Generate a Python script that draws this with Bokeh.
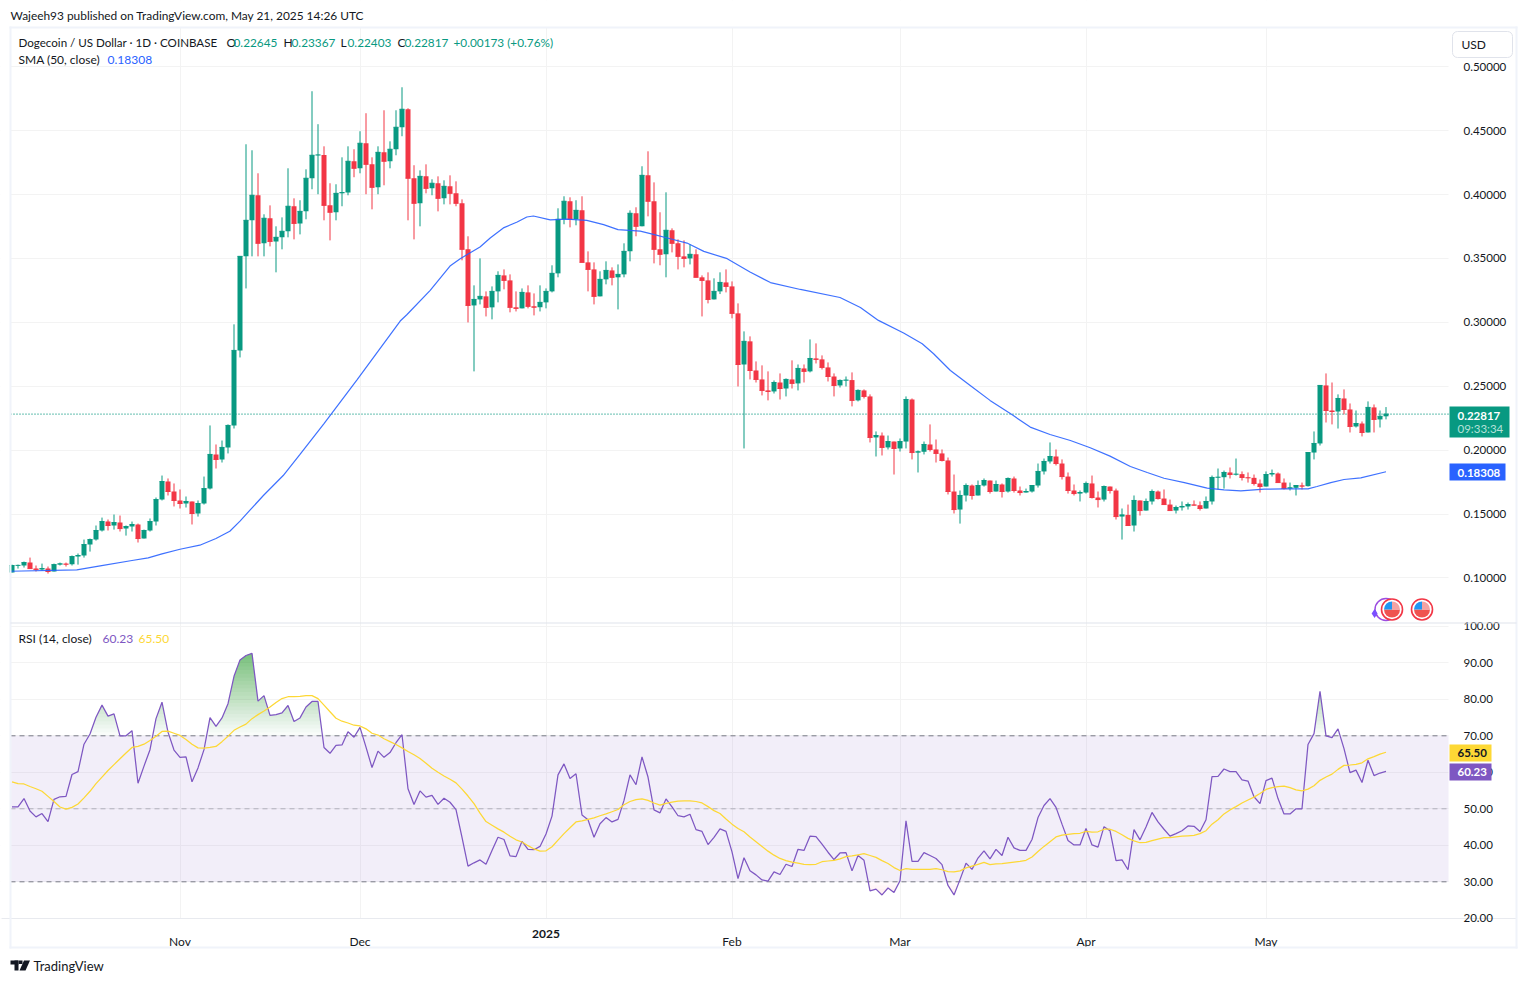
import numpy as np
import pandas as pd
from bokeh.plotting import figure
from bokeh.models import (Label, BoxAnnotation, PolyAnnotation, FixedTicker, Range1d, Grid, LinearAxis,
                          NumeralTickFormatter, ColumnDataSource)
from bokeh.embed import file_html
from bokeh.resources import INLINE

FONT = "Lato"
GREEN, RED, BLUE = "#089981", "#F23645", "#2962FF"
PURPLE, YELLOW = "#7E57C2", "#FDD835"
INK, GRID, EDGE = "#131722", "#F3F3F3", "#F0F3FA"

first_open = 0.1042
closes = [
 .1097,.1098,.1120,.1073,.1065,.1073,.1050,.1104,.1110,.1107,.1167,.1175,.1261,.1300,.1371,.1441,.1410,.1433,.1386,.1402,.1418,.1308,.1371,.1441,.1613,.1754,.1676,.1606,
 .1582,.1598,.1504,.1582,.1699,.1966,.1927,.2021,.2193,.2780,.3516,.3798,.3994,.3618,.3814,.3633,.3665,.3712,.3908,.3774,.3868,.4127,.4307,.4310,.3915,.3861,.4009,.4015,.4260,.4205,
 .4401,.4236,.4056,.4330,.4260,.4354,.4526,.4667,.4127,.3931,.4142,.4048,.4088,.3970,.4064,.4009,.3931,.3571,.3132,.3179,.3203,.3117,.3242,.3367,.3328,.3117,.3109,.3234,.3125,.3118,.3156,
 .3242,.3383,.3806,.3947,.3806,.3876,.3469,.3414,.3203,.3336,.3406,.3352,.3375,.3555,.3853,.3751,.4150,.3947,.3571,.3532,.3720,.3618,.3516,.3500,.3532,.3352,.3328,.3179,.3242,.3312,.3281,
 .3070,.2670,.2851,.2623,.2553,.2467,.2459,.2529,.2482,.2553,.2522,.2639,.2616,.2717,.2710,.2647,.2576,.2506,.2545,.2548,.2389,.2467,.2420,.2099,.2114,.2021,.2067,.2013,
 .2067,.2396,.1981,.1987,.2044,.2005,.1974,.1919,.1676,.1535,.1645,.1723,.1645,.1723,.1762,.1676,.1731,.1676,.1778,.1684,.1668,.1676,.1723,.1833,.1911,.1950,.1895,.1793,.1684,.1660,.1668,
 .1739,.1629,.1613,.1715,.1684,.1480,.1493,.1410,.1606,.1527,.1598,.1676,.1621,.1574,.1527,.1551,.1559,.1574,.1569,.1543,.1598,.1786,.1788,.1825,.1809,.1812,.1786,.1783,.1739,.1715,
 .1809,.1817,.1746,.1699,.1705,.1723,.1718,.1981,.2052,.2506,.2310,.2302,.2404,.2318,.2185,.2208,.2138,.2334,.2240,.22645,.22817]
highs = [
 .1104,.1104,.1128,.1159,.1097,.1112,.1089,.1112,.1120,.1120,.1175,.1191,.1300,.1308,.1410,.1472,.1457,.1496,.1488,.1410,.1441,.1425,.1378,.1465,.1629,.1801,.1778,.1739,
 .1692,.1637,.1598,.1606,.1793,.2193,.2044,.2075,.2201,.2984,.3516,.4393,.4346,.4166,.3845,.3915,.3751,.3821,.4205,.3970,.3955,.4197,.4808,.4550,.4377,.4088,.4080,.4291,.4377,.4354,
 .4495,.4636,.4291,.4377,.4659,.4416,.4659,.4839,.4675,.4229,.4189,.4236,.4119,.4142,.4111,.4150,.4103,.3962,.3673,.3289,.3500,.3242,.3281,.3399,.3414,.3375,.3242,.3265,.3289,.3226,.3289,
 .3265,.3446,.3892,.3986,.3978,.3955,.3986,.3555,.3469,.3399,.3477,.3430,.3453,.3618,.3876,.3900,.4221,.4338,.4095,.3861,.4017,.3735,.3649,.3641,.3610,.3571,.3367,.3391,.3344,.3391,.3414,
 .3320,.3148,.2929,.2890,.2694,.2663,.2616,.2545,.2600,.2561,.2702,.2670,.2670,.2866,.2835,.2741,.2686,.2600,.2553,.2576,.2608,.2475,.2475,.2436,.2146,.2138,.2114,.2067,
 .2091,.2420,.2404,.1997,.2067,.2201,.2083,.2005,.1942,.1809,.1684,.1739,.1731,.1762,.1778,.1762,.1762,.1739,.1786,.1793,.1715,.1699,.1723,.1895,.1934,.2060,.2005,.1927,.1825,.1731,.1684,
 .1754,.1801,.1676,.1723,.1715,.1699,.1543,.1574,.1645,.1606,.1621,.1692,.1684,.1692,.1613,.1566,.1598,.1590,.1606,.1598,.1637,.1801,.1856,.1840,.1864,.1934,.1833,.1825,.1809,.1770,
 .1833,.1848,.1825,.1778,.1746,.1723,.1746,.1981,.2146,.2506,.2600,.2529,.2436,.2475,.2365,.2310,.2224,.2381,.2357,.2310,.23367]
lows = [
 .1042,.1073,.1081,.1073,.1050,.1057,.1034,.1050,.1097,.1089,.1097,.1104,.1159,.1206,.1292,.1363,.1371,.1378,.1363,.1331,.1363,.1277,.1308,.1363,.1410,.1606,.1645,.1559,
 .1543,.1551,.1418,.1480,.1574,.1692,.1856,.1903,.1974,.2169,.2725,.3265,.3516,.3516,.3516,.3594,.3391,.3571,.3665,.3649,.3688,.3806,.4041,.4002,.3798,.3641,.3798,.3908,.3994,.4135,
 .4166,.4002,.3884,.4002,.4072,.4205,.4307,.4456,.3798,.3649,.3751,.4009,.3994,.3868,.3923,.3923,.3908,.3485,.2999,.2616,.3140,.3046,.3023,.3156,.3258,.3078,.3085,.3109,.3109,.3054,.3085,
 .3109,.3234,.3352,.3767,.3743,.3759,.3469,.3242,.3140,.3203,.3297,.3289,.3101,.3352,.3477,.3673,.3751,.3829,.3461,.3446,.3352,.3547,.3414,.3430,.3453,.3352,.3046,.3148,.3179,.3221,.3234,
 .3031,.2498,.2013,.2553,.2529,.2428,.2389,.2443,.2396,.2420,.2482,.2467,.2529,.2608,.2678,.2631,.2537,.2420,.2490,.2498,.2342,.2381,.2404,.2060,.1950,.1958,.2005,.1809,
 .1989,.2013,.1927,.1825,.1966,.1989,.1903,.1911,.1653,.1504,.1425,.1598,.1613,.1645,.1715,.1660,.1676,.1629,.1668,.1668,.1645,.1668,.1668,.1707,.1809,.1895,.1880,.1770,.1660,.1645,.1598,
 .1660,.1621,.1551,.1598,.1660,.1457,.1300,.1410,.1363,.1488,.1527,.1574,.1613,.1574,.1527,.1504,.1527,.1535,.1566,.1527,.1543,.1574,.1692,.1699,.1778,.1801,.1762,.1746,.1723,.1668,
 .1715,.1793,.1746,.1692,.1684,.1645,.1692,.1715,.1927,.2036,.2216,.2201,.2169,.2279,.2138,.2177,.2107,.2138,.2138,.2177,.22403]

sma_day = [-0.3,10.8,14.7,20,22.7,25,28,31.3,34,36.3,38,39.7,41.9,45.2,48,52,57.5,64.7,65.8,69.7,73,74.7,78,79.7,82,84.2,85.8,86.9,89.7,92.5,95.8,98.6,101,104.7,106.9,109.7,112.5,115.3,119.2,123,126.4,131.4,138,141.4,144.4,148.6,151.7,153.6,156.4,159.7,163,166.7,169.7,173,176.4,179.7,183,186.4,189.2,192,195.4,199.2,202,204.8,208.7,212,216,217.5,219.8,222,224.8,229]
sma_val = [.1052,.1063,.1094,.1136,.1157,.1188,.1224,.1256,.1308,.1365,.1444,.1532,.1645,.1801,.1966,.2208,.2550,.3010,.3059,.3250,.3440,.3498,.3589,.3660,.3741,.3785,.3824,.3832,.3801,.3808,.3798,.3764,.3725,.3714,.3688,.3654,.3620,.3555,.3498,.3393,.3311,.3257,.3194,.3116,.3015,.2916,.2832,.2754,.2623,.2506,.2389,.2276,.2180,.2122,.2075,.2018,.1953,.1872,.1825,.1780,.1746,.1702,.1689,.1681,.1694,.1697,.1697,.1715,.1746,.1770,.1783,.18308]

rsi = [
 50.5,50.5,52.8,49.4,47.8,48.7,46.5,52.6,53.3,53.4,59.4,60.2,67.7,70.5,75.1,78.4,75.4,76.0,70.0,70.0,71.4,57.0,61.7,66.2,74.7,79.2,71.0,66.1,
 64.1,64.2,57.4,61.2,66.2,75.0,72.6,74.9,78.8,86.3,90.8,92.0,92.6,79.5,81.0,75.6,75.8,76.3,78.3,73.9,74.9,77.9,79.4,79.4,66.8,65.2,67.4,67.5,71.1,69.6,
 72.3,66.9,61.3,65.8,64.1,65.4,68.1,70.3,55.5,51.2,54.9,53.2,53.7,51.2,52.9,51.8,49.8,42.2,34.3,35.2,36.0,34.8,38.6,42.2,41.6,37.1,36.9,41.1,38.9,38.8,39.7,
 43.1,48.0,59.3,62.3,58.3,59.6,48.3,47.0,42.2,45.9,47.6,46.4,47.1,52.3,59.3,56.6,64.2,58.7,49.7,48.9,52.7,50.5,48.1,47.8,48.5,44.3,43.8,40.2,42.2,44.5,43.8,
 38.2,30.9,36.6,33.0,31.9,30.5,30.2,32.7,32.0,34.8,34.2,38.9,38.6,42.5,42.4,40.3,38.1,36.1,37.9,38.0,33.0,37.2,35.9,27.5,28.0,26.4,28.3,27.1,
 30.3,46.7,35.6,35.6,38.0,37.2,36.4,34.7,29.0,26.4,30.6,35.1,33.4,36.5,38.5,36.3,38.9,37.2,42.2,39.3,38.6,38.6,41.6,47.6,50.9,52.8,50.4,45.8,41.3,40.1,40.1,
 44.6,40.1,39.5,45.1,44.0,35.8,36.0,33.3,44.3,41.5,45.0,49.0,46.4,44.4,42.5,43.2,44.0,45.3,45.2,43.8,47.0,58.8,58.9,60.9,60.2,60.2,57.9,57.6,53.3,51.4,
 57.7,58.4,52.8,48.6,48.6,50.0,50.0,67.6,70.6,82.2,70.0,69.5,71.9,66.5,59.9,60.6,57.2,63.3,59.1,59.8,60.23]
rsi_ma = [
 57.4,56.9,56.8,56.1,55.5,54.8,53.4,52.0,50.5,49.9,50.4,51.3,53.0,54.8,56.9,58.7,60.5,62.1,63.7,65.3,66.8,67.1,67.7,68.7,69.9,71.2,71.3,70.7,
 70.1,69.0,67.7,66.7,66.6,66.8,67.1,68.4,69.9,71.5,72.4,73.2,74.7,75.8,76.8,77.9,79.1,80.2,80.7,80.7,80.8,81.0,81.0,80.2,78.4,76.6,74.8,74.0,73.5,72.9,
 72.7,71.9,70.7,70.2,69.2,68.4,67.6,66.7,65.7,64.8,63.8,62.5,61.1,60.0,59.0,58.1,57.1,55.4,53.5,51.4,48.8,46.5,45.5,44.5,43.6,42.5,41.5,40.9,39.9,39.0,38.4,
 38.5,39.6,41.4,43.2,44.8,46.4,46.7,47.1,47.5,48.1,48.6,49.2,49.8,51.1,52.0,52.5,52.7,52.3,51.6,51.0,51.5,51.8,52.1,52.2,52.2,52.0,51.6,50.6,49.5,48.7,47.2,
 45.8,44.6,43.7,42.3,41.0,39.7,38.4,37.3,36.4,35.8,35.4,35.1,34.8,34.7,34.8,35.5,35.7,35.9,36.3,36.9,37.1,37.4,37.7,37.2,36.7,35.8,35.0,33.9,
 33.1,33.6,33.4,33.4,33.4,33.4,33.6,33.3,32.8,32.7,33.0,33.8,34.3,34.8,35.3,34.7,34.9,35.0,35.2,35.4,35.6,35.9,36.8,38.3,39.7,41.0,42.3,42.8,43.0,43.2,43.3,
 43.8,43.6,43.7,44.4,44.4,43.8,42.9,41.9,41.2,40.7,40.8,41.3,41.7,42.1,42.1,42.3,42.5,42.6,42.7,43.2,44.0,45.8,47.0,48.6,49.7,50.6,51.6,52.4,53.2,54.2,
 55.3,55.8,56.1,56.2,55.8,55.2,54.9,55.4,56.3,57.8,58.7,59.5,60.8,61.9,62.0,62.2,62.6,63.7,64.3,65.0,65.50]

price_ticks = [.10,.15,.20,.25,.30,.35,.40,.45,.50]
rsi_ticks = [20,30,40,50,60,70,80,90,100]
month_names = {"2024-11-01":"Nov","2024-12-01":"Dec","2025-01-01":"","2025-02-01":"Feb","2025-03-01":"Mar","2025-04-01":"Apr","2025-05-01":"May"}
last_close, last_sma, last_rsi, last_ma = 0.22817, 0.18308, 60.23, 65.50
event_days = [230, 235]
event_level = [0.0753, 0.0753]
rsi_levels = [70, 50, 30]

W, H = 1518, 975
start = pd.Timestamp("2024-10-04")
days = np.arange(len(closes))
month_days = [(pd.Timestamp(k) - start).days for k in month_names]
labels_x = {d: n for d, n in zip(month_days, month_names.values())}
opens = [first_open] + closes[:-1]
colors = [GREEN if c >= o else RED for o, c in zip(opens, closes)]
tops = [max(o, c) for o, c in zip(opens, closes)]
bots = [min(o, c) for o, c in zip(opens, closes)]

XL, XR = -0.25, 239.417      # plot area limits along time
p = figure(width=W, height=H, output_backend="svg", toolbar_location=None,
           x_range=Range1d(-1.9167, 251.083), y_range=Range1d(-0.2111, 0.5518),
           y_axis_location="right", x_axis_location="below",
           min_border_left=0, min_border_right=0, min_border_top=0, min_border_bottom=0,
           background_fill_color="white", border_fill_color="white", outline_line_color=None)
p.extra_y_ranges = {"rsi": Range1d(4.33, 271.45)}

def style_axis(ax):
    ax.axis_line_color = None
    ax.major_tick_line_color = None
    ax.minor_tick_line_color = None
    ax.major_label_text_font = FONT
    ax.major_label_text_font_size = "11.5px"
    ax.major_label_text_color = INK

p.yaxis.ticker = FixedTicker(ticks=price_ticks)
p.yaxis.formatter = NumeralTickFormatter(format="0.00000")
p.yaxis.fixed_location = XR
p.yaxis.major_label_standoff = 9
style_axis(p.yaxis[0])
rax = LinearAxis(y_range_name="rsi", ticker=FixedTicker(ticks=rsi_ticks),
                 formatter=NumeralTickFormatter(format="0.00"), fixed_location=XR, major_label_standoff=9)
style_axis(rax)
p.add_layout(rax, "right")
p.xaxis.ticker = FixedTicker(ticks=month_days)
p.xaxis.major_label_overrides = labels_x
p.xaxis.fixed_location = -0.1665
p.xaxis.major_label_standoff = 9
style_axis(p.xaxis[0])
p.xaxis.major_label_text_font_size = "12px"
p.xaxis.axis_line_color = "#E8EAEF"
p.xaxis.bounds = (-1.67, 250.75)

p.xgrid.ticker = FixedTicker(ticks=month_days)
p.ygrid.ticker = FixedTicker(ticks=price_ticks)
p.grid.grid_line_color = GRID
p.add_layout(Grid(dimension=1, ticker=FixedTicker(ticks=rsi_ticks), y_range_name="rsi", grid_line_color=GRID))

def txt(X, Y, s, color=INK, size=12, style="normal", align="left"):
    p.add_layout(Label(x=X, y=H - Y, x_units="screen", y_units="screen", text=s,
                       text_color=color, text_font=FONT, text_font_size=f"{size}px",
                       text_font_style=style, text_baseline="middle", text_align=align))

def box(X0, X1, Y0, Y1, color, **kw):
    p.add_layout(BoxAnnotation(left=X0, right=X1, top=H - Y0, bottom=H - Y1,
                               left_units="screen", right_units="screen", top_units="screen", bottom_units="screen",
                               fill_color=color, fill_alpha=1, line_color=None, **kw))

# white masks so the grids only run inside the panes
for b in [(0, 10, 0, H), (1448, W, 0, H), (0, W, 0, 27), (0, W, 918, H)]:
    box(*b, "white", level="underlay")

# ---------- price pane
p.line([XL, XR], [last_close, last_close], line_color=GREEN, line_dash=[1, 2], line_width=1.2)
src = ColumnDataSource(dict(x=days, h=highs, l=lows, t=tops, b=bots, c=colors, cl=closes,
                            x0=days - 2.5 / 6, x1=days + 2.5 / 6))
p.segment("x", "h", "x", "l", color="c", line_width=1, source=src)
p.vbar(x="x", top="t", bottom="b", width=5 / 6, fill_color="c", line_color=None, source=src)
p.segment("x0", "cl", "x1", "cl", color="c", line_width=1, source=src)
p.line(sma_day, sma_val, line_color=BLUE, line_width=1.2, line_alpha=0.9)
# economic-event badges
p.scatter([229.0], [event_level[0]], size=22, marker="circle", fill_color=None, line_color="#9C4DE0", line_width=1.5)
p.scatter([227.1], [0.0722], size=9, marker="diamond", fill_color="#7B4FFF", line_color=None)
p.scatter(event_days, event_level, size=21, marker="circle", fill_color="white", line_color=RED, line_width=1.6)
p.wedge(event_days, event_level, radius=8, radius_units="screen", start_angle=np.pi, end_angle=2 * np.pi, fill_color="#EF5350", line_color=None)
p.wedge(event_days, event_level, radius=8, radius_units="screen", start_angle=np.pi / 2, end_angle=np.pi, fill_color="#2196F3", line_color=None)
p.wedge(event_days, event_level, radius=8, radius_units="screen", start_angle=0, end_angle=np.pi / 2, fill_color="#F4A3A3", line_color=None)

# ---------- RSI pane
p.add_layout(BoxAnnotation(left=XL, right=XR, bottom=30, top=70, y_range_name="rsi", fill_color=PURPLE,
                           fill_alpha=0.1, line_color=None, level="underlay"))
for lvl, a in zip(rsi_levels, [1, .5, 1]):
    p.line([XL, XR], [lvl, lvl], y_range_name="rsi", line_color="#787B86", line_alpha=a, line_dash=[5, 4], line_width=1)
fx = np.arange(0, len(rsi) - 1 + 1e-9, 0.1)
fy = np.interp(fx, days, rsi)
m = fy >= 69.5
hi_x, hi_y = fx[m], fy[m]
prev = 0.0
for L in np.arange(70, 93, 1.0):
    A = 0.72 * (L - 69) / 23
    a = 1 - (1 - A) / (1 - prev)
    prev = A
    p.varea(hi_x, np.full(hi_x.shape, L), np.maximum(hi_y, L), y_range_name="rsi", fill_color="#4CAF50", fill_alpha=a)
m = fy <= 30.5
lo_x, lo_y = fx[m], fy[m]
for L in [30, 29, 28, 27]:
    p.varea(lo_x, np.full(lo_x.shape, L), np.minimum(lo_y, L), y_range_name="rsi", fill_color=RED, fill_alpha=0.025)
p.line(days, rsi, y_range_name="rsi", line_color=PURPLE, line_width=1.25)
p.line(days, rsi_ma, y_range_name="rsi", line_color=YELLOW, line_width=1.25)

# ---------- chrome
box(9, 11, 26, 948, EDGE)
box(9, 1517, 26, 28, EDGE)
box(1515, 1517, 26, 948, EDGE)
box(9, 1517, 946, 948, EDGE)
box(10, 1516, 622, 623, "#E0E3EB")
box(1449, 1509, 406, 437, GREEN)
box(1449, 1505, 463, 480, BLUE)
box(1449, 1491, 744, 761, YELLOW)
box(1449, 1491, 763, 780, PURPLE)
p.add_layout(BoxAnnotation(left=1452, right=1512, top=H - 31, bottom=H - 57,
                           left_units="screen", right_units="screen", top_units="screen", bottom_units="screen",
                           fill_color="white", fill_alpha=1, line_color="#E0E3EB", line_alpha=1, line_width=1, border_radius=5))
txt(1461, 44, "USD")
txt(1457, 415, "0.22817", "white", 11.5, "bold")
txt(1457, 428, "09:33:34", "#B5E1D9", 11.5)
txt(1457, 472, "0.18308", "white", 11.5, "bold")
txt(1457, 752.5, "65.50", INK, 11.5, "bold")
txt(1457, 771.5, "60.23", "white", 11.5, "bold")
txt(10, 15, "Wajeeh93 published on TradingView.com, May 21, 2025 14:26 UTC", INK, 11.9)
txt(18, 42, "Dogecoin / US Dollar · 1D · COINBASE", INK, 11.6)
for X, s in [(226, "O"), (283, "H"), (340, "L"), (397, "C")]:
    txt(X, 42, s)
for X, s in [(233, "0.22645"), (291, "0.23367"), (347, "0.22403"), (404, "0.22817"), (453, "+0.00173 (+0.76%)")]:
    txt(X, 42, s, GREEN, 11.8)
txt(18, 59, "SMA (50, close)")
txt(107, 59, "0.18308", BLUE)
txt(18, 638, "RSI (14, close)")
txt(102, 638, "60.23", PURPLE)
txt(138, 638, "65.50", YELLOW)
txt(11.5 + 6 * month_days[2], 933, "2025", INK, 12, "bold", "center")
# TradingView mark
box(10, 18, 960, 964, INK)
box(14, 18, 960, 970, INK)
p.add_layout(PolyAnnotation(xs=[23.5, 29.5, 25, 19], ys=[H - 960, H - 960, H - 970, H - 970],
                            xs_units="screen", ys_units="screen", fill_color=INK, fill_alpha=1, line_color=None))
box(18.5, 22, 960, 963.5, INK)
txt(33, 965, "TradingView", INK, 13)

open("out.html", "w").write(file_html(p, INLINE))
